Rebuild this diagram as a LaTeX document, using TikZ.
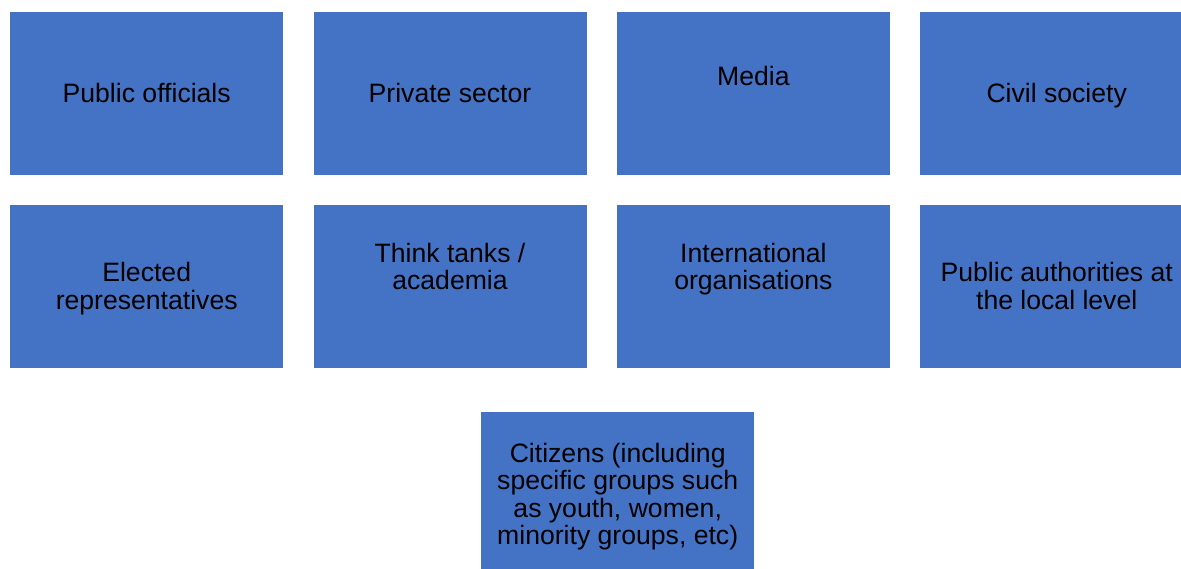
\documentclass[tikz,border=0pt]{standalone}
\usepackage{fontspec}
\setmainfont{Liberation Sans}
\definecolor{boxblue}{HTML}{4472C4}
\begin{document}
\begin{tikzpicture}[x=1pt,y=-1pt,
  actor/.style={rectangle, fill=boxblue, draw=none, minimum width=273pt, minimum height=163pt, anchor=north west, inner sep=0pt},
  label/.style={inner sep=0pt, align=center, text=black, font=\fontsize{26.6}{27.4}\selectfont}]
\clip (0,0) rectangle (1181,569);
\fill[white] (0,0) rectangle (1181,569);
% row 1
\node[actor] (b1) at (10,12) {};
\node[actor] (b2) at (313.3,12) {};
\node[actor] (b3) at (616.7,12) {};
\node[actor] (b4) at (920,12) {};
% row 2
\node[actor] (b5) at (10,205) {};
\node[actor] (b6) at (313.3,205) {};
\node[actor] (b7) at (616.7,205) {};
\node[actor] (b8) at (920,205) {};
% row 3
\node[actor] (b9) at (481,412) {};
% texts
\node[label, text height=19pt, text depth=0pt] (t1) at ([yshift=0.3pt]b1.center) {Public officials};
\node[label, text height=19pt, text depth=0pt] (t2) at ([yshift=0.3pt]b2.center) {Private sector};
\node[label, text height=19pt, text depth=0pt] (t3) at ([yshift=18pt]b3.center) {Media};
\node[label, text height=19pt, text depth=0pt] (t4) at ([yshift=0.3pt]b4.center) {Civil society};
\node[label] (t5) at ([yshift=-2pt]b5.center) {Elected\\representatives};
\node[label] (t6) at ([yshift=20.2pt]b6.center) {Think tanks /\\academia};
\node[label] (t7) at ([yshift=17.4pt]b7.center) {International\\organisations};
\node[label] (t8) at ([yshift=0.8pt]b8.center) {Public authorities at\\the local level};
\node[label] (t9) at ([yshift=-3pt]b9.center) {Citizens (including\\specific groups such\\as youth, women,\\minority groups, etc)};
\end{tikzpicture}
\end{document}
